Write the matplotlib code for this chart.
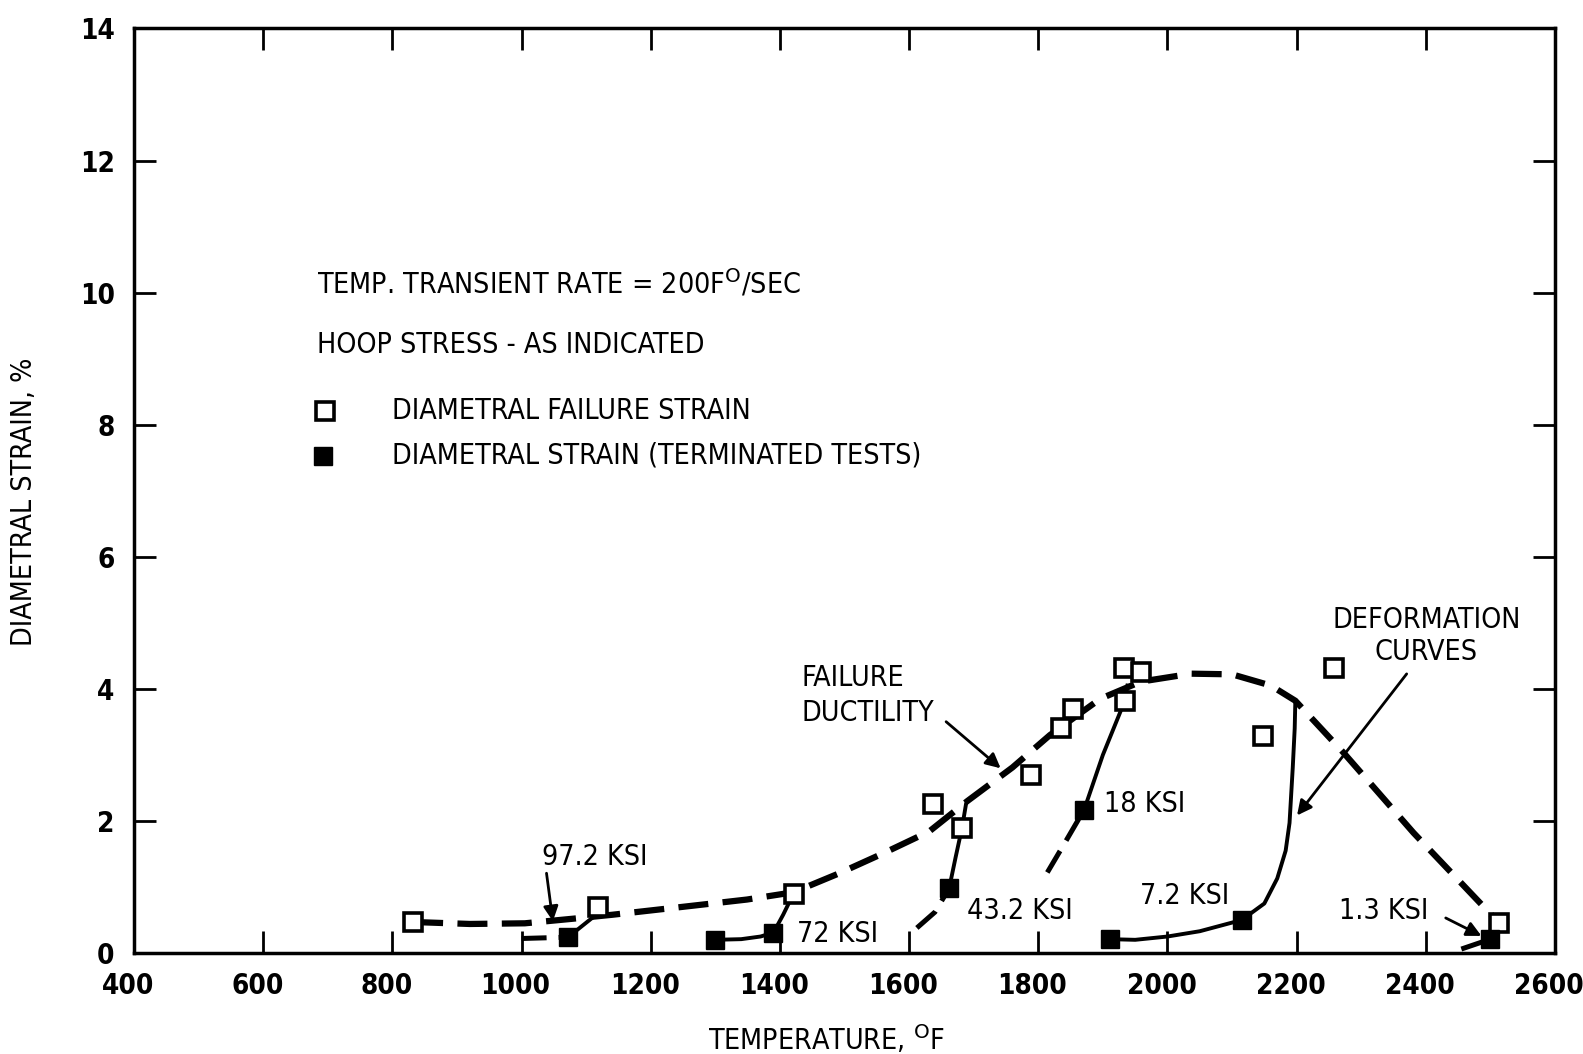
import matplotlib.pyplot as plt
from matplotlib import font_manager
from matplotlib import transforms

# open squares: diametral failure strain
fail_temp = [832, 1118, 1421, 1637, 1682, 1789, 1835, 1853, 1932, 1959, 1934, 2148, 2258, 2513]
fail_strain = [0.47, 0.69, 0.90, 2.26, 1.90, 2.70, 3.41, 3.70, 4.31, 4.25, 3.82, 3.29, 4.31, 0.46]

# filled squares: terminated tests
term_temp = [1072, 1299, 1390, 1662, 1871, 1911, 2115, 2500]
term_strain = [0.24, 0.20, 0.31, 0.98, 2.17, 0.21, 0.50, 0.21]

# failure ductility (dashed envelope)
duct_temp = [832, 920, 1005, 1080, 1141, 1250, 1349, 1421, 1490, 1560, 1631, 1690, 1760, 1818, 1896,
             1959, 2037, 2100, 2160, 2198, 2272, 2381, 2513]
duct_strain = [0.47, 0.44, 0.45, 0.52, 0.58, 0.70, 0.81, 0.92, 1.20, 1.51, 1.84, 2.30, 2.81, 3.30, 3.85,
               4.11, 4.23, 4.22, 4.05, 3.82, 3.04, 1.82, 0.46]

# deformation curves: solid part and dashed lead-in
curves = {
    '97.2 KSI': {'solid': ([1072, 1095, 1118], [0.24, 0.42, 0.60]),
                 'dash': ([1000, 1072], [0.22, 0.24])},
    '72 KSI': {'solid': ([1299, 1340, 1370, 1390, 1405, 1421], [0.20, 0.21, 0.25, 0.31, 0.58, 0.90]),
               'dash': None},
    '43.2 KSI': {'solid': ([1662, 1672, 1682, 1688], [0.98, 1.45, 1.90, 2.25]),
                 'dash': ([1612, 1640, 1662], [0.38, 0.62, 0.98])},
    '18 KSI': {'solid': ([1871, 1900, 1934, 1938], [2.17, 3.00, 3.82, 4.05]),
               'dash': ([1814, 1840, 1871], [1.22, 1.65, 2.17])},
    '7.2 KSI': {'solid': ([1911, 1950, 2000, 2050, 2115, 2150, 2170, 2183, 2189, 2194, 2197, 2198],
                          [0.21, 0.20, 0.25, 0.33, 0.50, 0.75, 1.13, 1.55, 1.97, 2.81, 3.40, 3.82]),
                'dash': None},
    '1.3 KSI': {'solid': None,
                'dash': ([2455, 2500], [0.06, 0.21])},
}

ktext = [('97.2 KSI', 1032, 1.45), ('72 KSI', 1427, 0.29), ('43.2 KSI', 1689, 0.64),
         ('18 KSI', 1901, 2.25), ('7.2 KSI', 1957, 0.87), ('1.3 KSI', 2265, 0.63)]

xticks = list(range(400, 2601, 200))
yticks = list(range(0, 15, 2))

condensed = font_manager.FontProperties(family='DejaVu Sans', stretch='condensed', size=20.5)
tickfont = font_manager.FontProperties(family='DejaVu Sans', stretch='condensed', weight='bold', size=20)

fig = plt.figure(figsize=(15.83, 10.54), dpi=100)
ax = fig.add_axes([0.0847, 0.0958, 0.9823 - 0.0847, 0.973 - 0.0958])

ax.plot(duct_temp, duct_strain, color='black', lw=4.5, dashes=(4.8, 2.3), solid_capstyle='butt')
for name, c in curves.items():
    if c['solid']:
        ax.plot(c['solid'][0], c['solid'][1], color='black', lw=2.8)
    if c['dash']:
        ax.plot(c['dash'][0], c['dash'][1], color='black', lw=3.6, dashes=(5, 2.4))

ax.plot(fail_temp, fail_strain, 's', ms=13, mfc='white', mec='black', mew=2.6, zorder=5)
ax.plot(term_temp, term_strain, 's', ms=13, mfc='black', mec='black', zorder=5)

for t, x, y in ktext:
    ax.text(x, y, t, fontproperties=condensed, va='center', ha='left')

arrow = dict(arrowstyle='-|>', color='black', lw=2, mutation_scale=22)
ax.annotate('', xy=(1049, 0.44), xytext=(1038, 1.25), arrowprops=arrow)
ax.annotate('', xy=(2490, 0.24), xytext=(2427, 0.55), arrowprops=arrow)
ax.text(1434, 3.9, 'FAILURE\nDUCTILITY', fontproperties=condensed, va='center', ha='left', linespacing=1.3)
ax.annotate('', xy=(1745, 2.77), xytext=(1654, 3.53), arrowprops=arrow)
ax.text(2401, 4.8, 'DEFORMATION\nCURVES', fontproperties=condensed, va='center', ha='center', linespacing=1.2)
ax.annotate('', xy=(2198, 2.05), xytext=(2373, 4.26), arrowprops=arrow)

# key block
ax.text(683, 10.13, 'TEMP. TRANSIENT RATE = 200F$^{\\mathrm{O}}$/SEC', fontproperties=condensed, va='center')
ax.text(683, 9.2, 'HOOP STRESS - AS INDICATED', fontproperties=condensed, va='center')
ax.plot([696], [8.2], 's', ms=13, mfc='white', mec='black', mew=2.6)
ax.text(800, 8.2, 'DIAMETRAL FAILURE STRAIN', fontproperties=condensed, va='center')
ax.plot([693], [7.53], 's', ms=13, mfc='black', mec='black')
ax.text(800, 7.53, 'DIAMETRAL STRAIN (TERMINATED TESTS)', fontproperties=condensed, va='center')

ax.set_xlim(400, 2600)
ax.set_ylim(0, 14)
ax.set_xticks(xticks)
ax.set_yticks(yticks)
ax.tick_params(direction='in', length=16, width=2, top=True, right=True, pad=14)
shift = transforms.ScaledTranslation(-6 / 100, 0, fig.dpi_scale_trans)
for lab in ax.get_xticklabels():
    lab.set_fontproperties(tickfont)
    lab.set_transform(lab.get_transform() + shift)
for lab in ax.get_yticklabels():
    lab.set_fontproperties(tickfont)
for s in ax.spines.values():
    s.set_linewidth(2.5)

ax.set_xlabel('TEMPERATURE, $^{\\mathrm{O}}$F', fontproperties=condensed, labelpad=16)
ax.xaxis.label.set_x(0.487)
ax.set_ylabel('DIAMETRAL STRAIN, %', fontproperties=condensed, labelpad=30)
ax.yaxis.label.set_y(0.488)

fig.savefig('out.png', dpi=100)
